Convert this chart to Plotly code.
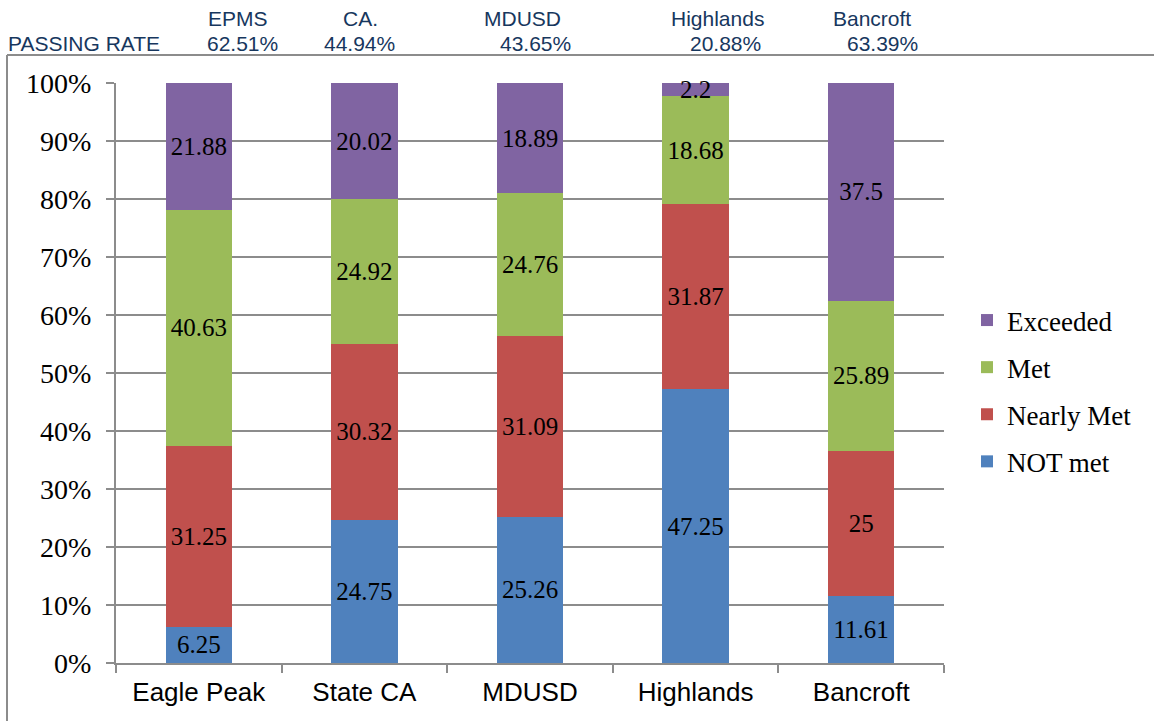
import plotly.graph_objects as go

categories = ["Eagle Peak", "State CA", "MDUSD", "Highlands", "Bancroft"]
not_met = [6.25, 24.75, 25.26, 47.25, 11.61]
nearly_met = [31.25, 30.32, 31.09, 31.87, 25]
met = [40.63, 24.92, 24.76, 18.68, 25.89]
exceeded = [21.88, 20.02, 18.89, 2.2, 37.5]

y_tick_vals = [0, 10, 20, 30, 40, 50, 60, 70, 80, 90, 100]
y_tick_text = ["0%", "10%", "20%", "30%", "40%", "50%", "60%", "70%", "80%", "90%", "100%"]

header_names = ["EPMS", "CA.", "MDUSD", "Highlands", "Bancroft"]
passing_rates = ["62.51%", "44.94%", "43.65%", "20.88%", "63.39%"]
header_name_px = [238, 360, 522, 717, 872]
header_rate_px = [242, 359, 535, 725, 882]

series = [
    ("NOT met", not_met, "#4F81BD", 4),
    ("Nearly Met", nearly_met, "#C0504D", 3),
    ("Met", met, "#9BBB59", 2),
    ("Exceeded", exceeded, "#8064A2", 1),
]

SERIF = "Liberation Serif"
fig = go.Figure()
for i, (name, vals, color, rank) in enumerate(series):
    fig.add_trace(go.Bar(
        x=categories, y=vals, name=name, marker=dict(color=color, line=dict(width=0)),
        text=[f"{v:g}" for v in vals], textposition="inside", insidetextanchor="middle",
        textangle=0, constraintext="none", cliponaxis=False,
        textfont=dict(family=SERIF, size=25, color="black"),
        legendgroup=f"g{i}", legendrank=rank,
    ))

L, R, T, B = 116, 944, 83, 663
W, H = 1154, 721
def px2x(px):
    return (px - L) / (R - L)
def py2y(py):
    return (B - py) / (B - T)

annotations = []
hdr_color = "#17375E"
hdr_font = dict(family="Liberation Sans", size=21, color=hdr_color)
for name, rate, xn, xr in zip(header_names, passing_rates, header_name_px, header_rate_px):
    annotations.append(dict(text=name, x=px2x(xn), y=py2y(18), xref="paper", yref="paper",
                            showarrow=False, xanchor="center", yanchor="middle", font=hdr_font))
    annotations.append(dict(text=rate, x=px2x(xr), y=py2y(43), xref="paper", yref="paper",
                            showarrow=False, xanchor="center", yanchor="middle", font=hdr_font))
annotations.append(dict(text="PASSING RATE", x=px2x(6), y=py2y(43), xref="paper", yref="paper",
                        showarrow=False, xanchor="left", yanchor="middle", font=hdr_font))

shapes = [
    dict(type="line", xref="paper", yref="paper", x0=px2x(7), x1=px2x(W + 5), y0=py2y(55), y1=py2y(55),
         line=dict(color="#8C8C8C", width=2)),
    dict(type="line", xref="paper", yref="paper", x0=px2x(7), x1=px2x(7), y0=py2y(55), y1=py2y(H + 5),
         line=dict(color="#8C8C8C", width=2)),
]

grid = "#8C8C8C"
fig.update_layout(
    barmode="stack", bargap=0.6,
    width=W, height=H,
    margin=dict(l=L, r=W - R, t=T, b=H - B, pad=0),
    paper_bgcolor="white", plot_bgcolor="white",
    showlegend=True,
    legend=dict(x=px2x(967), y=py2y(391), xanchor="left", yanchor="middle",
                traceorder="grouped", tracegroupgap=9,
                font=dict(family=SERIF, size=27, color="black"), bgcolor="rgba(0,0,0,0)"),
    yaxis=dict(range=[0, 100.05], tickmode="array", tickvals=y_tick_vals, ticktext=y_tick_text,
               showgrid=True, gridcolor=grid, gridwidth=1.5,
               showline=True, linecolor=grid, linewidth=2, ticks="outside", ticklen=8, tickcolor=grid,
               tickwidth=2, zeroline=False, ticklabelstandoff=9,
               tickfont=dict(family=SERIF, size=28, color="black")),
    xaxis=dict(showline=True, linecolor=grid, linewidth=2, ticks="outside", ticklen=8, tickcolor=grid,
               tickwidth=2, tickson="boundaries", showgrid=False, ticklabelstandoff=5,
               tickfont=dict(family="Liberation Sans", size=26, color="black")),
    annotations=annotations, shapes=shapes,
)

fig.write_html("out.html")
